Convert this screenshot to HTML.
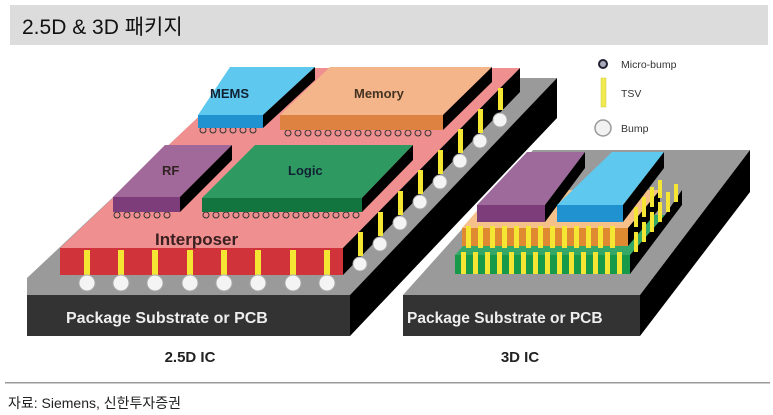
<!DOCTYPE html>
<html><head><meta charset="utf-8"><style>
body{margin:0;width:773px;height:415px;background:#fff;overflow:hidden}
svg{display:block}
text{font-family:"Liberation Sans","Noto Sans CJK KR",sans-serif}
</style></head><body>
<svg width="773" height="415" viewBox="0 0 773 415">
<rect x="10" y="5" width="758" height="40" fill="#dcdcdc"/>
<text x="22" y="34" font-size="21" fill="#111">2.5D &amp; 3D 패키지</text>

<polygon points="27,278 240,78 557,78 350,295 27,295" fill="#9a9a9a"/>
<rect x="27" y="295" width="323" height="41" fill="#333"/>
<polygon points="350,295 557,78 557,118 350,336" fill="#000"/>
<text x="66" y="323" font-size="16" font-weight="bold" fill="#eee">Package Substrate or PCB</text>

<polygon points="60,248 250,68 520,68 343,248" fill="#f08f8f"/>
<rect x="60" y="248" width="283" height="27" fill="#d0343a"/>
<polygon points="343,248 520,68 520,92 343,275" fill="#000"/>
<g fill="#f5e633">
<rect x="84" y="250" width="6" height="25"/><rect x="118" y="250" width="6" height="25"/><rect x="152" y="250" width="6" height="25"/><rect x="187" y="250" width="6" height="25"/><rect x="221" y="250" width="6" height="25"/><rect x="255" y="250" width="6" height="25"/><rect x="290" y="250" width="6" height="25"/><rect x="324" y="250" width="6" height="25"/>
<rect x="358" y="232" width="5" height="24"/><rect x="378" y="212" width="5" height="24"/><rect x="398" y="191" width="5" height="24"/><rect x="418" y="170" width="5" height="24"/><rect x="438" y="150" width="5" height="24"/><rect x="458" y="129" width="5" height="24"/><rect x="478" y="109" width="5" height="24"/><rect x="498" y="88" width="5" height="22"/>
</g>
<g fill="#f4f4f4" stroke="#aaa" stroke-width="1">
<circle cx="87" cy="283" r="8"/><circle cx="121" cy="283" r="8"/><circle cx="155" cy="283" r="8"/><circle cx="190" cy="283" r="8"/><circle cx="224" cy="283" r="8"/><circle cx="258" cy="283" r="8"/><circle cx="293" cy="283" r="8"/><circle cx="327" cy="283" r="8"/>
<circle cx="360" cy="264" r="7"/><circle cx="380" cy="244" r="7"/><circle cx="400" cy="223" r="7"/><circle cx="420" cy="202" r="7"/><circle cx="440" cy="182" r="7"/><circle cx="460" cy="161" r="7"/><circle cx="480" cy="141" r="7"/><circle cx="500" cy="120" r="7"/>
</g>
<text x="155" y="245" font-size="17" font-weight="bold" fill="#3a2020">Interposer</text>

<g fill="#f08f8f" stroke="#333" stroke-width="1">
<circle cx="203" cy="130" r="3"/><circle cx="213" cy="130" r="3"/><circle cx="223" cy="130" r="3"/><circle cx="233" cy="130" r="3"/><circle cx="243" cy="130" r="3"/><circle cx="253" cy="130" r="3"/>
<circle cx="288" cy="133" r="3"/><circle cx="298" cy="133" r="3"/><circle cx="308" cy="133" r="3"/><circle cx="318" cy="133" r="3"/><circle cx="328" cy="133" r="3"/><circle cx="338" cy="133" r="3"/><circle cx="348" cy="133" r="3"/><circle cx="358" cy="133" r="3"/><circle cx="368" cy="133" r="3"/><circle cx="378" cy="133" r="3"/><circle cx="388" cy="133" r="3"/><circle cx="398" cy="133" r="3"/><circle cx="408" cy="133" r="3"/><circle cx="418" cy="133" r="3"/><circle cx="428" cy="133" r="3"/>
<circle cx="117" cy="215" r="3"/><circle cx="127" cy="215" r="3"/><circle cx="137" cy="215" r="3"/><circle cx="147" cy="215" r="3"/><circle cx="157" cy="215" r="3"/><circle cx="167" cy="215" r="3"/>
<circle cx="206" cy="215" r="3"/><circle cx="216" cy="215" r="3"/><circle cx="226" cy="215" r="3"/><circle cx="236" cy="215" r="3"/><circle cx="246" cy="215" r="3"/><circle cx="256" cy="215" r="3"/><circle cx="266" cy="215" r="3"/><circle cx="276" cy="215" r="3"/><circle cx="286" cy="215" r="3"/><circle cx="296" cy="215" r="3"/><circle cx="306" cy="215" r="3"/><circle cx="316" cy="215" r="3"/><circle cx="326" cy="215" r="3"/><circle cx="336" cy="215" r="3"/><circle cx="346" cy="215" r="3"/><circle cx="356" cy="215" r="3"/>
</g>

<polygon points="198,115 230,67 315,67 263,115" fill="#5ec8ee"/>
<rect x="198" y="115" width="65" height="13" fill="#1f92cf"/>
<polygon points="263,115 315,67 315,80 263,128" fill="#000"/>
<text x="210" y="98" font-size="13" font-weight="bold" fill="#123">MEMS</text>
<polygon points="280,115 330,67 492,67 443,115" fill="#f5b58a"/>
<rect x="280" y="115" width="163" height="15" fill="#dd8240"/>
<polygon points="443,115 492,67 492,82 443,130" fill="#000"/>
<text x="354" y="98" font-size="13" font-weight="bold" fill="#432">Memory</text>
<polygon points="113,197 165,145 232,145 180,197" fill="#a0699a"/>
<rect x="113" y="197" width="67" height="15" fill="#7c3d7a"/>
<polygon points="180,197 232,145 232,160 180,212" fill="#000"/>
<text x="162" y="175" font-size="13" font-weight="bold" fill="#322">RF</text>
<polygon points="202,198 255,145 413,145 362,198" fill="#2e9a62"/>
<rect x="202" y="198" width="160" height="14" fill="#12753f"/>
<polygon points="362,198 413,145 413,160 362,212" fill="#000"/>
<text x="288" y="175" font-size="13" font-weight="bold" fill="#123">Logic</text>

<polygon points="403,295 533,150 750,150 640,295" fill="#9a9a9a"/>
<rect x="403" y="295" width="237" height="41" fill="#333"/>
<polygon points="640,295 750,150 750,192 640,336" fill="#000"/>
<text x="407" y="323" font-size="15.5" font-weight="bold" fill="#eee">Package Substrate or PCB</text>

<polygon points="455,255 490,215 665,215 630,255" fill="#35a867"/>
<rect x="455" y="255" width="175" height="19" fill="#169a4a"/>
<polygon points="630,255 665,215 682,190 682,205 630,274" fill="#000"/>
<polygon points="462,228 495,190 660,190 628,228" fill="#f6c08a"/>
<rect x="462" y="228" width="166" height="18" fill="#df8a30"/>
<polygon points="628,228 660,190 660,208 628,246" fill="#000"/>
<g fill="#f5e633">
<rect x="466" y="226" width="5" height="22"/><rect x="478" y="226" width="5" height="22"/><rect x="490" y="226" width="5" height="22"/><rect x="502" y="226" width="5" height="22"/><rect x="514" y="226" width="5" height="22"/><rect x="526" y="226" width="5" height="22"/><rect x="538" y="226" width="5" height="22"/><rect x="550" y="226" width="5" height="22"/><rect x="562" y="226" width="5" height="22"/><rect x="574" y="226" width="5" height="22"/><rect x="586" y="226" width="5" height="22"/><rect x="598" y="226" width="5" height="22"/><rect x="610" y="226" width="5" height="22"/>
<rect x="461" y="252" width="5" height="22"/><rect x="473" y="252" width="5" height="22"/><rect x="485" y="252" width="5" height="22"/><rect x="497" y="252" width="5" height="22"/><rect x="509" y="252" width="5" height="22"/><rect x="521" y="252" width="5" height="22"/><rect x="533" y="252" width="5" height="22"/><rect x="545" y="252" width="5" height="22"/><rect x="557" y="252" width="5" height="22"/><rect x="569" y="252" width="5" height="22"/><rect x="581" y="252" width="5" height="22"/><rect x="593" y="252" width="5" height="22"/><rect x="605" y="252" width="5" height="22"/><rect x="617" y="252" width="5" height="22"/>
<rect x="634" y="232" width="4" height="20"/><rect x="642" y="222" width="4" height="20"/><rect x="650" y="212" width="4" height="20"/><rect x="658" y="202" width="4" height="20"/><rect x="666" y="192" width="4" height="20"/><rect x="674" y="184" width="4" height="18"/>
<rect x="634" y="207" width="4" height="20"/><rect x="642" y="197" width="4" height="20"/><rect x="650" y="187" width="4" height="20"/><rect x="658" y="180" width="4" height="18"/>
</g>
<polygon points="477,205 527,152 585,152 545,205" fill="#9e6a9c"/>
<rect x="477" y="205" width="68" height="17" fill="#7c3d7a"/>
<polygon points="545,205 585,152 585,168 545,222" fill="#000"/>
<polygon points="557,205 612,152 664,152 623,205" fill="#5ec8ee"/>
<rect x="557" y="205" width="66" height="17" fill="#1f92cf"/>
<polygon points="623,205 664,152 664,168 623,222" fill="#000"/>

<circle cx="603" cy="64" r="4" fill="#aab" stroke="#223" stroke-width="2"/>
<text x="621" y="68" font-size="10.5" fill="#333">Micro-bump</text>
<rect x="601" y="78" width="5" height="29" fill="#f0ea50" stroke="#cc4" stroke-width="0.5"/>
<text x="621" y="97" font-size="10.5" fill="#333">TSV</text>
<circle cx="603" cy="128" r="8" fill="#f2f2f2" stroke="#999" stroke-width="1.5"/>
<text x="621" y="132" font-size="10.5" fill="#333">Bump</text>

<text x="190" y="362" font-size="15" font-weight="bold" text-anchor="middle" fill="#222">2.5D IC</text>
<text x="520" y="362" font-size="15" font-weight="bold" text-anchor="middle" fill="#222">3D IC</text>
<rect x="5" y="382" width="765" height="1.5" fill="#999"/>
<text x="8" y="408" font-size="14" fill="#222">자료: Siemens, 신한투자증권</text>
</svg>
</body></html>
